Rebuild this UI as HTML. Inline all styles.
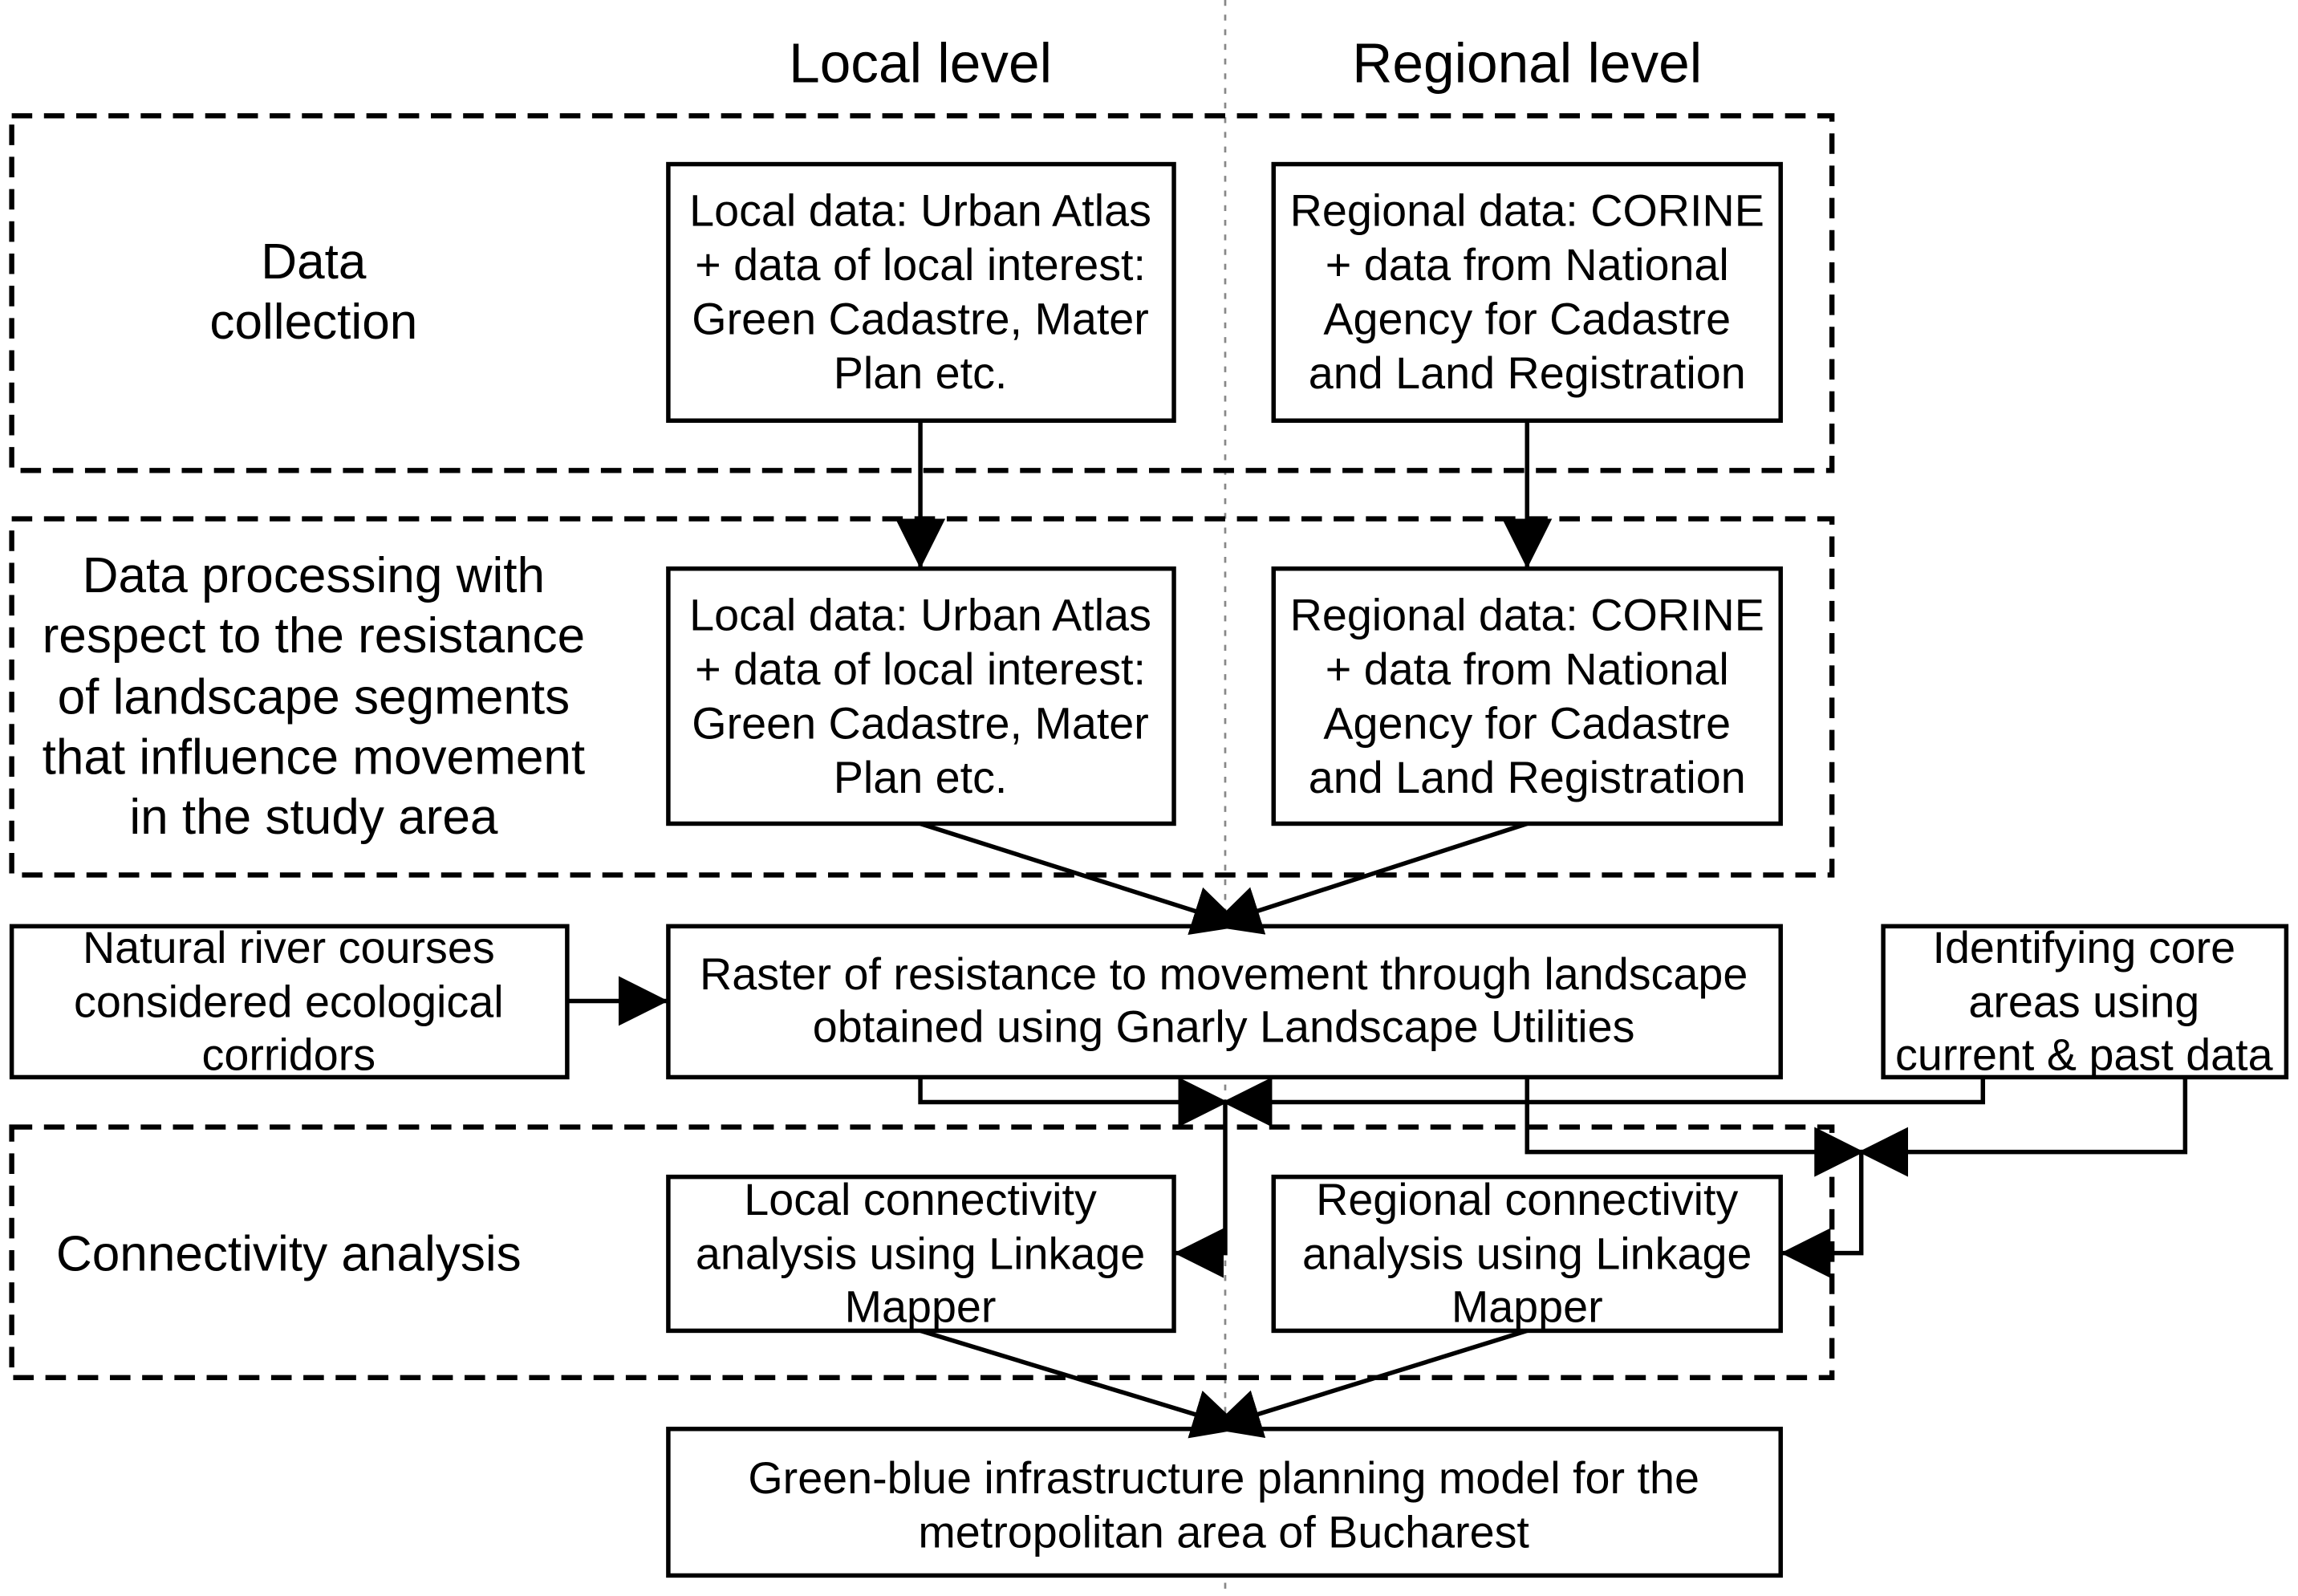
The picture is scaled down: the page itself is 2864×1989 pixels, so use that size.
<!DOCTYPE html>
<html><head><meta charset="utf-8"><style>
html,body{margin:0;padding:0;background:#fff;}
svg{display:block;}
text{font-family:"Liberation Sans",Arial,sans-serif;fill:#000;text-anchor:middle;}
</style></head><body>
<svg width="2864" height="1989" viewBox="0 0 1568 1089" preserveAspectRatio="none" xmlns="http://www.w3.org/2000/svg">
<defs>
<marker id="a" markerUnits="userSpaceOnUse" markerWidth="34" markerHeight="34" refX="32" refY="16" orient="auto" viewBox="0 0 32 32">
<path d="M0,0 L32,16 L0,32 z" fill="#000"/></marker>
</defs>
<rect width="1568" height="1089" fill="#fff"/>
<line x1="836" y1="0" x2="836" y2="1089" stroke="#888" stroke-width="1.5" stroke-dasharray="4,6"/>
<text x="628" y="56" font-size="38">Local level</text>
<text x="1042" y="56" font-size="38">Regional level</text>
<g fill="none" stroke="#000" stroke-width="3.5" stroke-dasharray="14,8">
<rect x="8" y="79" width="1242" height="242"/>
<rect x="8" y="354" width="1242" height="243"/>
<rect x="8" y="769" width="1242" height="171"/>
</g>
<g fill="#fff" stroke="#000" stroke-width="3">
<rect x="456" y="112" width="345" height="175"/>
<rect x="869" y="112" width="346" height="175"/>
<rect x="456" y="388" width="345" height="174"/>
<rect x="869" y="388" width="346" height="174"/>
<rect x="456" y="632" width="759" height="103"/>
<rect x="8" y="632" width="379" height="103"/>
<rect x="1285" y="632" width="275" height="103"/>
<rect x="456" y="803" width="345" height="105"/>
<rect x="869" y="803" width="346" height="105"/>
<rect x="456" y="975" width="759" height="100"/>
</g>
<g fill="none" stroke="#000" stroke-width="3">
<line x1="628" y1="287" x2="628" y2="388" marker-end="url(#a)"/>
<line x1="1042" y1="287" x2="1042" y2="388" marker-end="url(#a)"/>
<line x1="628" y1="562" x2="848" y2="632" marker-end="url(#a)"/>
<line x1="1042" y1="562" x2="826" y2="632" marker-end="url(#a)"/>
<line x1="387" y1="683" x2="456" y2="683" marker-end="url(#a)"/>
<polyline points="628,735 628,752 838,752" marker-end="url(#a)"/>
<polyline points="1353,735 1353,752 834,752" marker-end="url(#a)"/>
<polyline points="836,752 836,855 801,855" marker-end="url(#a)"/>
<polyline points="1042,735 1042,786 1272,786" marker-end="url(#a)"/>
<polyline points="1491,735 1491,786 1268,786" marker-end="url(#a)"/>
<polyline points="1270,786 1270,855 1215,855" marker-end="url(#a)"/>
<line x1="628" y1="908" x2="848" y2="975" marker-end="url(#a)"/>
<line x1="1042" y1="908" x2="826" y2="975" marker-end="url(#a)"/>
</g>
<g font-size="30.5">
<text x="628" y="154">Local data: Urban Atlas</text>
<text x="628" y="191">+ data of local interest:</text>
<text x="628" y="228">Green Cadastre, Mater</text>
<text x="628" y="265">Plan etc.</text>
<text x="1042" y="154">Regional data: CORINE</text>
<text x="1042" y="191">+ data from National</text>
<text x="1042" y="228">Agency for Cadastre</text>
<text x="1042" y="265">and Land Registration</text>
<text x="628" y="430">Local data: Urban Atlas</text>
<text x="628" y="467">+ data of local interest:</text>
<text x="628" y="504">Green Cadastre, Mater</text>
<text x="628" y="541">Plan etc.</text>
<text x="1042" y="430">Regional data: CORINE</text>
<text x="1042" y="467">+ data from National</text>
<text x="1042" y="504">Agency for Cadastre</text>
<text x="1042" y="541">and Land Registration</text>
<text x="835" y="675">Raster of resistance to movement through landscape</text>
<text x="835" y="711">obtained using Gnarly Landscape Utilities</text>
<text x="197" y="657">Natural river courses</text>
<text x="197" y="694">considered ecological</text>
<text x="197" y="730">corridors</text>
<text x="1422" y="657">Identifying core</text>
<text x="1422" y="694">areas using</text>
<text x="1422" y="730">current &amp; past data</text>
<text x="628" y="829">Local connectivity</text>
<text x="628" y="866">analysis using Linkage</text>
<text x="628" y="902">Mapper</text>
<text x="1042" y="829">Regional connectivity</text>
<text x="1042" y="866">analysis using Linkage</text>
<text x="1042" y="902">Mapper</text>
<text x="835" y="1019">Green-blue infrastructure planning model for the</text>
<text x="835" y="1056">metropolitan area of Bucharest</text>
</g>
<g font-size="34">
<text x="214" y="190">Data</text>
<text x="214" y="231">collection</text>
<text x="214" y="404">Data processing with</text>
<text x="214" y="445">respect to the resistance</text>
<text x="214" y="487">of landscape segments</text>
<text x="214" y="528">that influence movement</text>
<text x="214" y="569">in the study area</text>
<text x="197" y="867">Connectivity analysis</text>
</g>
</svg>
</body></html>
